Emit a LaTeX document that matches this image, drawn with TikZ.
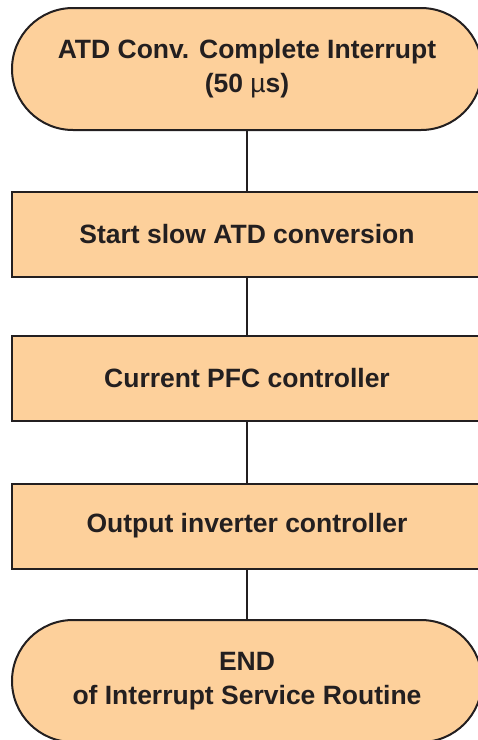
\documentclass[tikz,border=0pt]{standalone}
\usepackage{fontspec}
\setmainfont{Liberation Sans}
\usetikzlibrary{shapes.misc}
\definecolor{boxfill}{RGB}{253,208,155}
\definecolor{boxline}{RGB}{35,31,32}
\begin{document}
\begin{tikzpicture}[x=1pt,y=-1pt,
  terminal/.style={draw=boxline, fill=boxfill, line width=2pt, rounded rectangle, minimum width=470pt, minimum height=122pt, inner sep=0pt, align=center, font=\bfseries\fontsize{26.5}{34}\selectfont, text=boxline},
  stepbox/.style={draw=boxline, fill=boxfill, line width=2pt, rectangle, minimum width=470pt, minimum height=85pt, inner sep=0pt, align=center, font=\bfseries\fontsize{26.5}{34}\selectfont, text=boxline},
  link/.style={draw=boxline, line width=2pt}]
\clip (0,0) rectangle (478,740);
\node[terminal] (start) at (247,69) {ATD Conv. Complete Interrupt\\(50 {\mdseries µ}s)};
\node[stepbox] (slow) at (247,234.5) {Start slow ATD conversion};
\node[stepbox] (pfc) at (247,378.5) {Current PFC controller};
\node[stepbox] (inverter) at (247,526) {Output inverter controller};
\node[terminal] (finish) at (247,681) {END\\of Interrupt Service Routine};
\draw[link] (start) -- (slow);
\draw[link] (slow) -- (pfc);
\draw[link] (pfc) -- (inverter);
\draw[link] (inverter) -- (finish);
\end{tikzpicture}
\end{document}
